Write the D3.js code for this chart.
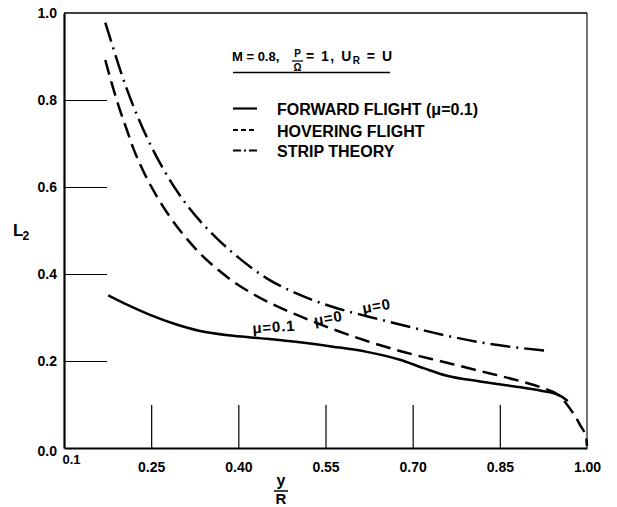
<!DOCTYPE html>
<html>
<head>
<meta charset="utf-8">
<script src="https://cdn.jsdelivr.net/npm/d3@7.9.0/dist/d3.min.js"></script>
<style>
  body { margin: 0; background: #fff; }
  svg { display: block; font-family: "Liberation Sans", Arial, sans-serif; font-weight: bold; }
</style>
</head>
<body>
<div id="chart"></div>
<script>
// tick values
const xTicks = [0.1, 0.25, 0.40, 0.55, 0.70, 0.85, 1.00];
const yTicks = [0.0, 0.2, 0.4, 0.6, 0.8, 1.0];

// curves: [y/R, L2]
const forwardFlight = [
  [0.176, 0.351], [0.214, 0.326], [0.248, 0.306], [0.291, 0.285], [0.334, 0.269],
  [0.391, 0.258], [0.449, 0.251], [0.506, 0.243], [0.563, 0.233], [0.621, 0.221],
  [0.678, 0.203], [0.720, 0.183], [0.759, 0.166], [0.816, 0.153], [0.873, 0.142],
  [0.919, 0.132], [0.954, 0.120], [0.967, 0.108]
];
const hoveringFlight = [
  [0.171, 0.892], [0.182, 0.839], [0.196, 0.778], [0.208, 0.732], [0.219, 0.690],
  [0.237, 0.635], [0.260, 0.578], [0.282, 0.532], [0.317, 0.472], [0.334, 0.447],
  [0.363, 0.412], [0.391, 0.383], [0.449, 0.337], [0.506, 0.303], [0.563, 0.273],
  [0.621, 0.246], [0.678, 0.223], [0.759, 0.196], [0.816, 0.177], [0.873, 0.158],
  [0.919, 0.140], [0.954, 0.118], [0.971, 0.090], [0.988, 0.053], [0.9985, 0.023],
  [1.0, 0.005]
];
const stripTheory = [
  [0.171, 0.978], [0.182, 0.931], [0.199, 0.860], [0.219, 0.787], [0.242, 0.716],
  [0.271, 0.641], [0.303, 0.574], [0.334, 0.522], [0.363, 0.482], [0.391, 0.448],
  [0.449, 0.390], [0.506, 0.352], [0.563, 0.324], [0.621, 0.303], [0.678, 0.284],
  [0.759, 0.258], [0.816, 0.243], [0.873, 0.232], [0.928, 0.224]
];

const legendNames = ['FORWARD FLIGHT (\u03bc=0.1)', 'HOVERING FLIGHT', 'STRIP THEORY'];

// curve labels: text, anchor [y/R, L2], tilt
const curveLabels = [
  { text: '\u03bc=0.1', at: [0.425, 0.263], tilt: -4 },
  { text: '\u03bc=0', at: [0.532, 0.281], tilt: -10 },
  { text: '\u03bc=0', at: [0.615, 0.309], tilt: -10 }
];

const width = 617;
const height = 507;

const x = d3.scaleLinear().domain([0.1, 1.0]).range([64, 587]);
const y = d3.scaleLinear().domain([0, 1]).range([448, 13]);

const svg = d3.select('#chart')
  .append('svg')
  .attr('width', width)
  .attr('height', height);

// top and right frame
svg.append('line')
  .attr('x1', x(0.1)).attr('x2', x(1.0))
  .attr('y1', y(1)).attr('y2', y(1))
  .attr('stroke', '#000').attr('stroke-width', 1.3);
svg.append('line')
  .attr('x1', x(1.0)).attr('x2', x(1.0))
  .attr('y1', y(1)).attr('y2', y(0))
  .attr('stroke', '#000').attr('stroke-width', 1.1);

// y axis, ticks pointing inward
const yAxis = svg.append('g')
  .attr('transform', `translate(${x(0.1)},0)`)
  .call(d3.axisLeft(y).tickValues(yTicks).tickSize(-43).tickSizeOuter(0)
    .tickPadding(7).tickFormat(d3.format('.1f')));

// x axis
const xAxis = svg.append('g')
  .attr('transform', `translate(0,${y(0)})`)
  .call(d3.axisBottom(x).tickValues(xTicks).tickSize(-43).tickSizeOuter(0)
    .tickPadding(14).tickFormat(d => d === 0.1 ? '0.1' : d3.format('.2f')(d)));

[yAxis, xAxis].forEach(g => {
  g.select('.domain').attr('stroke-width', 2.2);
  g.selectAll('.tick line').attr('stroke-width', 1.2);
  g.selectAll('.tick text').attr('font-size', 14).attr('fill', '#000');
  g.attr('font-family', null).attr('font-size', null);
});

yAxis.selectAll('.tick').filter(d => d === 0 || d === 1).select('line').remove();
xAxis.selectAll('.tick').filter(d => d === 0.1 || d === 1.0).select('line').remove();
yAxis.selectAll('.tick').filter(d => d === 0).select('text').attr('dy', '0.5em');
xAxis.selectAll('.tick').filter(d => d === 0.1).select('text')
  .attr('text-anchor', 'start').attr('x', -2).attr('y', 7).attr('font-size', 13);

// curves
const line = d3.line()
  .x(d => x(d[0]))
  .y(d => y(d[1]))
  .curve(d3.curveMonotoneX);

const series = [
  { data: forwardFlight, dash: null, legendDash: null },
  { data: hoveringFlight, dash: '15,7', legendDash: '5,3' },
  { data: stripTheory, dash: '20,6,2,6', legendDash: '8,3,2,3' }
];

svg.append('g')
  .selectAll('path')
  .data(series)
  .join('path')
  .attr('d', d => line(d.data))
  .attr('fill', 'none')
  .attr('stroke', '#000')
  .attr('stroke-width', 2.5)
  .attr('stroke-dasharray', d => d.dash);

// curve labels
svg.append('g')
  .selectAll('text')
  .data(curveLabels)
  .join('text')
  .attr('transform', d => `translate(${x(d.at[0])},${y(d.at[1])}) rotate(${d.tilt})`)
  .attr('font-size', 15)
  .attr('letter-spacing', 0.8)
  .text(d => d.text);

// title block
const title = svg.append('g');
title.append('text').attr('x', 232).attr('y', 61).attr('font-size', 13).text('M = 0.8,');
title.append('text').attr('x', 297.5).attr('y', 57).attr('font-size', 10)
  .attr('text-anchor', 'middle').text('P');
title.append('line').attr('x1', 292).attr('x2', 303).attr('y1', 61).attr('y2', 61)
  .attr('stroke', '#000').attr('stroke-width', 1.2);
title.append('text').attr('x', 297.5).attr('y', 71).attr('font-size', 10)
  .attr('text-anchor', 'middle').text('\u03a9');
const rest = title.append('text').attr('x', 306).attr('y', 61)
  .attr('font-size', 14).attr('letter-spacing', 1.5);
rest.append('tspan').text('= 1, U');
rest.append('tspan').attr('font-size', 10).attr('dy', 3).text('R');
rest.append('tspan').attr('dy', -3).text(' = U');
title.append('line').attr('x1', 233).attr('x2', 390).attr('y1', 72.5).attr('y2', 72.5)
  .attr('stroke', '#000').attr('stroke-width', 1.5);

// legend
const legend = svg.append('g')
  .selectAll('g')
  .data(series)
  .join('g')
  .attr('transform', (d, i) => `translate(233,${[108.5, 130, 150.5][i]})`);

legend.append('line')
  .attr('x1', 0).attr('x2', 24)
  .attr('stroke', '#000').attr('stroke-width', 2.2)
  .attr('stroke-dasharray', d => d.legendDash);

legend.append('text')
  .attr('x', 44).attr('y', 6.5)
  .attr('font-size', 16)
  .text((d, i) => legendNames[i]);

// axis titles
const yl = svg.append('text').attr('x', 13).attr('y', 236).attr('font-size', 17);
yl.append('tspan').text('L');
yl.append('tspan').attr('font-size', 12).attr('dy', 4).attr('dx', -1).text('2');

svg.append('text').attr('x', 281).attr('y', 486).attr('font-size', 16)
  .attr('text-anchor', 'middle').text('y');
svg.append('line').attr('x1', 274).attr('x2', 288).attr('y1', 491).attr('y2', 491)
  .attr('stroke', '#000').attr('stroke-width', 1.5);
svg.append('text').attr('x', 281).attr('y', 504).attr('font-size', 15)
  .attr('text-anchor', 'middle').text('R');
</script>
</body>
</html>
